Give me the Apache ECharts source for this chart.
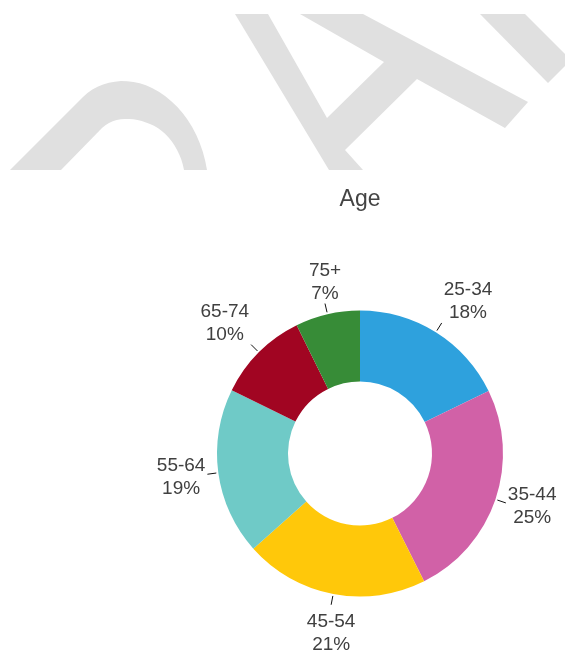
<!DOCTYPE html>
<html>
<head>
<meta charset="utf-8">
<script src="https://cdn.jsdelivr.net/npm/echarts@6/dist/echarts.min.js"></script>
<style>
  html, body { margin: 0; padding: 0; background: #fff; }
  #chart { width: 565px; height: 651px; }
</style>
</head>
<body>
<div id="chart"></div>
<script>
// age breakdown, share of respondents (%)
const ageGroups = ['25-34', '35-44', '45-54', '55-64', '65-74', '75+']
const ageShares = [17.8, 24.8, 20.8, 18.9, 10.4, 7.3]
const sliceColors = ['#2ea1dd', '#d161a7', '#ffc80a', '#6fcac7', '#a10522', '#378c37']

const CX = 360
const CY = 453.5
const R_IN = 72
const R_OUT = 143

const total = ageShares.reduce((a, b) => a + b, 0)
const startShare = []
ageShares.reduce((acc, v, i) => { startShare[i] = acc; return acc + v }, 0)

// put each label just past a short radial tick, pushed away from the ring
function placeLabel (params) {
  const i = params.dataIndex
  const mid = (startShare[i] + ageShares[i] / 2) / total * Math.PI * 2
  const dx = Math.sin(mid)
  const dy = -Math.cos(mid)
  const p0 = [CX + (R_OUT + 2) * dx, CY + (R_OUT + 2) * dy]
  const p1 = [CX + (R_OUT + 11) * dx, CY + (R_OUT + 11) * dy]
  const w = params.labelRect.width
  const h = params.labelRect.height
  const sx = Math.abs(dx) > 0.4 ? Math.sign(dx) : 0
  const sy = Math.abs(dy) > 0.4 ? Math.sign(dy) : 0
  return {
    x: p1[0] + sx * (w / 2 + 2),
    y: p1[1] + sy * (h / 2 + 2) + 3.5,
    align: 'center',
    verticalAlign: 'middle',
    labelLinePoints: [p0, p1, p1]
  }
}

// flatten a cubic curve into polygon points (watermark only)
function cubic (p0, c1, c2, p3, n) {
  const pts = []
  for (let k = 1; k <= n; k++) {
    const t = k / n
    const u = 1 - t
    pts.push([
      u * u * u * p0[0] + 3 * u * u * t * c1[0] + 3 * u * t * t * c2[0] + t * t * t * p3[0],
      u * u * u * p0[1] + 3 * u * u * t * c1[1] + 3 * u * t * t * c2[1] + t * t * t * p3[1]
    ])
  }
  return pts
}

const markD = [[10, 170], [83, 97]]
  .concat(cubic([83, 97], [100, 80], [128, 76], [152, 88], 12))
  .concat(cubic([152, 88], [180, 102], [201, 132], [207, 170], 12))
  .concat([[184, 170]])
  .concat(cubic([184, 170], [180, 148], [166, 130], [150, 124], 12))
  .concat(cubic([150, 124], [134, 117], [115, 116], [102, 128], 12))
  .concat([[61, 170]])

const chart = echarts.init(document.getElementById('chart'))

const option = {
  backgroundColor: '#fff',
  title: {
    text: 'Age',
    left: 355,
    top: 183,
    textAlign: 'center',
    textStyle: {
      fontFamily: 'Liberation Sans',
      fontSize: 23,
      fontWeight: 'normal',
      color: '#444'
    }
  },
  // faded watermark lettering across the top
  graphic: [
    {
      type: 'polygon',
      z: 0,
      shape: { points: markD },
      style: { fill: '#e0e0e0' }
    },
    {
      type: 'polygon',
      z: 0,
      shape: { points: [[235, 14], [329, 170], [363, 170], [345, 150], [417, 79], [505, 128], [528, 102], [363, 14], [300, 14], [384, 62], [327, 118], [268, 14]] },
      style: { fill: '#e0e0e0' }
    },
    {
      type: 'polygon',
      z: 0,
      shape: { points: [[480, 14], [525, 14], [565, 54], [565, 66], [548, 83]] },
      style: { fill: '#e0e0e0' }
    }
  ],
  series: [
    {
      type: 'pie',
      center: [CX, CY],
      radius: [R_IN, R_OUT],
      startAngle: 90,
      clockwise: true,
      avoidLabelOverlap: false,
      percentPrecision: 0,
      data: ageGroups.map((name, i) => ({
        name: name,
        value: ageShares[i],
        itemStyle: { color: sliceColors[i] }
      })),
      itemStyle: { borderWidth: 0 },
      label: {
        show: true,
        position: 'outside',
        formatter: '{b}\n{d}%',
        fontFamily: 'Liberation Sans',
        fontSize: 19,
        lineHeight: 23,
        color: '#404040'
      },
      labelLine: {
        show: true,
        length: 9,
        length2: 0,
        lineStyle: { color: '#111', width: 1 }
      },
      labelLayout: placeLabel,
      emphasis: { disabled: true },
      animation: false
    }
  ]
}

chart.setOption(option)
window.addEventListener('resize', () => chart.resize())
</script>
</body>
</html>
